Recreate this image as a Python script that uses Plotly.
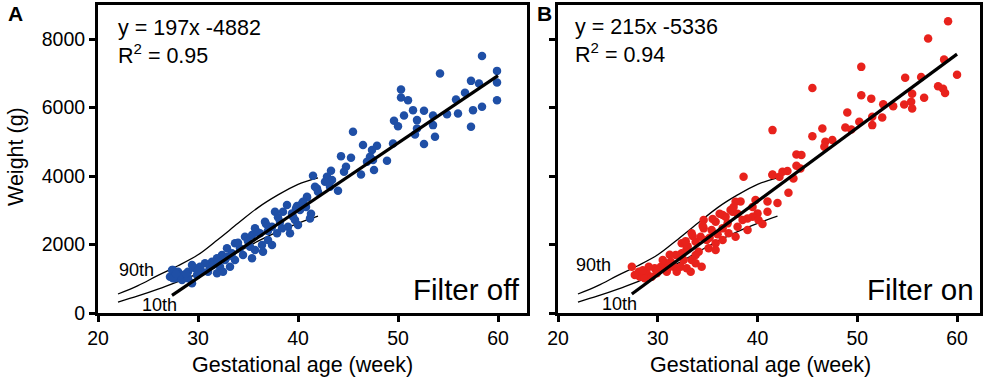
import plotly.graph_objects as go

# ---------------- data ----------------
# Panel A (Filter off) scatter: gestational age (week), weight (g)
a_age = [58.4, 54.2, 59.9, 57.3, 58.1, 59.9, 56.7, 55.8, 59.9, 57.5, 58.4, 56.0, 54.9, 57.3,
         50.3, 50.3, 51.0, 51.5, 52.6, 50.6, 53.5, 49.6, 50.0, 51.9, 53.5, 51.9, 51.7, 53.7, 52.6,
         45.5, 46.5, 47.9, 47.4, 49.5, 44.3, 45.3, 47.2, 46.9, 47.5, 48.9, 44.8, 44.6, 46.3, 47.6,
         43.3, 41.5, 42.9, 43.4, 41.9, 42.7, 44.0, 43.2, 40.9,
         41.7, 42.0, 40.9, 40.5, 39.9, 38.9, 38.5, 37.7, 39.4, 40.2, 41.2, 39.7, 38.2, 36.7, 37.4,
         39.0, 39.2, 35.7, 36.2, 37.9, 38.4, 34.7, 35.4, 37.0, 36.4, 37.4, 33.7, 34.2, 35.2, 35.7,
         36.5, 32.9, 33.4, 34.5, 35.4, 32.4, 31.9, 32.7, 33.7, 31.4, 30.7, 31.2, 32.2, 33.2, 30.2,
         29.7, 29.4, 30.4, 31.0, 31.9, 32.5, 29.0, 28.5, 28.0, 27.5, 27.2, 27.7, 28.4, 29.0, 29.9,
         29.4, 27.4, 28.2, 27.5, 39.5, 40.0, 40.4, 36.0, 34.0, 33.0, 30.0, 31.5, 38.0, 40.8, 41.3,
         37.0, 35.0, 32.0, 28.8, 27.8, 36.8, 39.8]
a_wt = [7513, 6999, 7075, 6783, 6707, 6736, 6433, 6240, 6220, 5928, 6024, 5831, 5811, 5440,
        6532, 6299, 6220, 5928, 5908, 5771, 5771, 5616, 5460, 5636, 5490, 5393, 5218, 5149, 4935,
        5295, 4906, 4886, 4760, 4955, 4584, 4535, 4565, 4418, 4468, 4448, 4274, 4126, 4049, 4176,
        4155, 4009, 3980, 3884, 3641, 3834, 3572, 3689, 3396,
        3689, 3543, 3377, 3250, 3124, 3154, 2958, 2958, 2911, 3008, 2765, 2716, 2666, 2666, 2520,
        2520, 2327, 2473, 2327, 2327, 2473, 2228, 2278, 2132, 1986, 1986, 2035, 1889, 1936, 1840,
        1790, 1889, 1743, 1694, 1597, 1694, 1597, 1548, 1548, 1498, 1451, 1352, 1352, 1352, 1352,
        1305, 1402, 1206, 1206, 1159, 1206, 1206, 1110, 1206, 1256, 1060, 1013, 964, 1013, 1110,
        867, 1256, 1110, 1013, 2813, 2570, 3200, 2350, 2050, 1650, 1250, 1400, 2800, 3100, 2900,
        2400, 2100, 1500, 1150, 1150, 2600, 3050]

# Panel B (Filter on) scatter
b_age = [59.1, 57.1, 50.4, 58.7, 60.0, 54.8, 56.4, 58.1, 58.6, 58.8, 45.5, 50.4, 51.4, 55.5,
         56.7, 52.6, 53.6, 54.7, 55.4, 55.5, 49.0, 51.5, 52.5, 50.2, 48.8, 49.4, 51.5, 46.5, 41.5,
         45.5, 46.8, 47.5, 46.7, 43.9, 44.4, 43.9, 44.3, 43.0, 41.5, 42.2, 43.6, 38.6, 43.1,
         41.5, 42.5, 42.0, 41.0, 38.3, 37.5, 36.5, 41.0, 40.0, 39.5, 39.0, 38.5, 40.1, 35.8, 37.0,
         38.0, 39.0, 35.4, 36.5, 34.6, 37.1, 37.8, 34.3, 34.9, 33.4, 33.8, 35.8, 36.5, 32.4, 32.9,
         34.1, 35.1, 35.8, 33.8, 32.4, 31.8, 32.6, 33.4, 31.3, 30.8, 31.6, 32.3, 32.9, 30.3, 29.7,
         29.1, 30.9, 31.9, 29.9, 28.9, 28.1, 27.4, 28.2, 28.7, 29.4, 27.7, 33.3, 34.4, 33.8,
         36.8, 37.3, 34.6, 39.5, 40.5, 38.0, 36.0, 30.0, 31.0, 28.5, 37.8, 39.8, 35.2, 33.0,
         34.5, 35.5, 36.2, 33.5, 32.8, 37.6, 31.2, 30.5]
b_wt = [8526, 8021, 7192, 7406, 6965, 6877, 6896, 6624, 6556, 6429, 6576, 6362, 6264, 6410,
        6293, 6103, 6044, 6093, 6170, 5977, 5860, 5733, 5714, 5587, 5422, 5364, 5490, 5393, 5344,
        5168, 5003, 5052, 4857, 4632, 4614, 4302, 4225, 4146, 4049, 3980, 3933, 3980, 3515,
        4030, 4126, 3212, 3260, 3260, 2958, 2862, 2958, 2911, 2813, 2765, 2716, 2716, 2666, 2619,
        2520, 2424, 2424, 2473, 2473, 2327, 2228, 2228, 2132, 2327, 2082, 2035, 2132, 2035, 1889,
        1790, 1889, 1840, 1694, 1743, 1694, 1548, 1548, 1498, 1451, 1352, 1352, 1305, 1352, 1305,
        1352, 1206, 1206, 1159, 1159, 1206, 1352, 1060, 1013, 1060, 1110, 1206, 1352, 1451,
        2813, 3008, 2716, 3100, 2600, 2900, 2300, 1250, 1300, 1250, 3250, 3300, 2200, 1950,
        2550, 2750, 2900, 2250, 2100, 3100, 1700, 1550]

# Reference percentile curves (same in both panels)
pct_age = [22, 24, 26, 28, 30, 32, 34, 36, 38, 40, 42]
p90_wt = [555, 800, 1100, 1380, 1700, 2150, 2620, 3080, 3450, 3760, 3950]
p10_wt = [320, 500, 700, 920, 1150, 1450, 1780, 2100, 2380, 2620, 2830]

# Regression fits (from the chart's equations)
fit_a = (197, -4882)
fit_b = (215, -5336)
fit_range = [27.4, 60]

x_ticks = [20, 30, 40, 50, 60]
y_ticks = [0, 2000, 4000, 6000, 8000]

# ---------------- figure ----------------
FONT = "Liberation Sans, Arial, Helvetica, sans-serif"
BLUE = "#1f4fa6"
RED = "#e8221c"

fig = go.Figure()

def add_panel(xa, ya, ages, wts, color, fit):
    fig.add_trace(go.Scatter(x=pct_age, y=p90_wt, mode="lines", xaxis=xa, yaxis=ya,
                             line=dict(color="black", width=1.3, shape="spline"), showlegend=False))
    fig.add_trace(go.Scatter(x=pct_age, y=p10_wt, mode="lines", xaxis=xa, yaxis=ya,
                             line=dict(color="black", width=1.3, shape="spline"), showlegend=False))
    fig.add_trace(go.Scatter(x=ages, y=wts, mode="markers", xaxis=xa, yaxis=ya,
                             marker=dict(color=color, size=8.5, line=dict(width=0)), showlegend=False))
    fx = fit_range
    fy = [fit[0] * v + fit[1] for v in fx]
    fig.add_trace(go.Scatter(x=fx, y=fy, mode="lines", xaxis=xa, yaxis=ya,
                             line=dict(color="black", width=3.2), showlegend=False))

add_panel("x", "y", a_age, a_wt, BLUE, fit_a)
add_panel("x2", "y2", b_age, b_wt, RED, fit_b)

W, H = 992, 381
ydom = [1 - 313 / H, 1 - 5 / H]

axis_common = dict(showgrid=False, zeroline=False, showline=True, linecolor="black",
                   linewidth=3, mirror=True, ticks="outside", ticklen=6, tickwidth=3,
                   tickcolor="black", automargin=False,
                   tickfont=dict(family=FONT, size=19.5, color="black"))

fig.update_layout(
    width=W, height=H,
    margin=dict(l=0, r=0, t=0, b=0),
    paper_bgcolor="white", plot_bgcolor="white",
    font=dict(family=FONT, color="black"),
    xaxis=dict(domain=[98 / W, 527 / W], range=[20, 62.9], tickvals=x_ticks, anchor="y", **axis_common),
    yaxis=dict(domain=ydom, range=[0, 9000], tickvals=y_ticks, anchor="x", **axis_common),
    xaxis2=dict(domain=[558 / W, 980 / W], range=[20, 62.3], tickvals=x_ticks, anchor="y2", **axis_common),
    yaxis2=dict(domain=ydom, range=[0, 9000], tickvals=y_ticks, anchor="x2", showticklabels=False,
                **axis_common),
)

ann = []
def txt(text, x, y, xref, yref, size, xanchor="left", yanchor="middle", bold=False, **kw):
    ann.append(dict(text=text, x=x, y=y, xref=xref, yref=yref, showarrow=False,
                    xanchor=xanchor, yanchor=yanchor,
                    font=dict(family=FONT, size=size, color="black",
                              weight="bold" if bold else "normal"), **kw))

# equations
txt("y = 197x -4882<br>R<sup>2</sup> = 0.95", 0.042, 0.97, "x domain", "y domain", 21.5, yanchor="top", align="left")
txt("y = 215x -5336<br>R<sup>2</sup> = 0.94", 0.036, 0.975, "x2 domain", "y2 domain", 21.5, yanchor="top", align="left")
# filter labels
txt("Filter off", 0.988, 0.015, "x domain", "y domain", 29.5, xanchor="right", yanchor="bottom")
txt("Filter on", 0.99, 0.015, "x2 domain", "y2 domain", 29.5, xanchor="right", yanchor="bottom")
# percentile labels
txt("90th", 0.044, 0.138, "x domain", "y domain", 18)
txt("10th", 0.098, 0.026, "x domain", "y domain", 18)
txt("90th", 0.038, 0.155, "x2 domain", "y2 domain", 18)
txt("10th", 0.0995, 0.028, "x2 domain", "y2 domain", 18)
# panel letters
txt("A", 6 / W, 1 - 14 / H, "paper", "paper", 21, bold=True)
txt("B", 535 / W, 1 - 13 / H, "paper", "paper", 21, bold=True)
# axis titles
txt("Weight (g)", 16 / W, 1 - 157 / H, "paper", "paper", 21.5, xanchor="center", textangle=-90)
txt("Gestational age (week)", 302 / W, 1 - 365 / H, "paper", "paper", 21.5, xanchor="center")
txt("Gestational age (week)", 760 / W, 1 - 365 / H, "paper", "paper", 21.5, xanchor="center")

fig.update_layout(annotations=ann)
fig.write_html(
    "out.html",
    config={"displayModeBar": False},
    post_script="document.body.style.margin='0px';document.body.style.padding='0px';"
                "document.body.style.overflow='hidden';",
)
